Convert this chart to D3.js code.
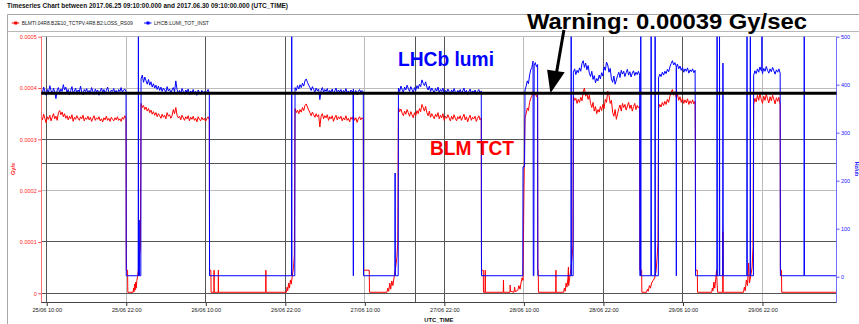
<!DOCTYPE html>
<html>
<head>
<meta charset="utf-8">
<script src="https://cdn.jsdelivr.net/npm/d3@7"></script>
<style>
  html, body { margin: 0; padding: 0; background: #fff; }
  svg { display: block; font-family: "Liberation Sans", Arial, sans-serif; }
</style>
</head>
<body>
<svg id="chart" width="859" height="324"></svg>
<script>
// times are "DD HH:MM" in June 2017 (UTC)
const parseT = s => d3.utcParse("%Y-%m-%d %H:%M")("2017-06-" + s);

const timeRange = ["25 09:10", "30 09:10"];
const xTicks = ["25 10:00", "25 22:00", "26 10:00", "26 22:00", "27 10:00",
                "27 22:00", "28 10:00", "28 22:00", "29 10:00", "29 22:00"];
const blmTicks = [0, 1, 2, 3, 4, 5];          // x 1e-4 Gy/s
const lumiTicks = [0, 100, 200, 300, 400, 500]; // Hz/ub

// stable-beam fills
const fillStart = ["25 09:10", "26 00:14", "26 23:28", "27 15:04", "28 10:10", "28 17:28", "29 06:19", "29 20:40"];
const fillEnd   = ["25 21:58", "26 10:32", "27 09:46", "28 03:34", "28 12:04", "29 03:28", "29 11:50", "30 00:40"];

const lumiFills = [
  [392, 381, 395, 386, 378, 390, 384, 398, 388, 380, 393, 385, 371, 389, 394, 383, 391, 386, 400, 389, 395, 384, 390, 379, 388, 396, 382, 387, 393, 381, 389, 385, 397, 384, 379, 390, 386, 392, 381, 388, 383, 394, 386, 380, 391, 385, 389, 378, 387, 393, 384, 390, 382, 388, 395, 385, 380, 389, 386, 392, 383, 388, 381, 390, 386, 394, 384, 389, 391, 386],
  [412, 420, 405, 416, 408, 401, 411, 399, 406, 395, 402, 393, 399, 390, 397, 388, 395, 386, 393, 389, 384, 396, 387, 391, 383, 389, 394, 385, 408, 390, 383, 388, 381, 392, 386, 380, 389, 384, 391, 379, 387, 383, 390, 381, 386, 378, 389, 384, 380, 388, 382, 386, 379, 385, 390, 383],
  [394, 388, 398, 391, 400, 394, 403, 397, 408, 412, 405, 399, 394, 388, 396, 390, 385, 393, 387, 391, 369, 388, 394, 384, 390, 386, 392, 382, 388, 385, 391, 380, 387, 393, 383, 389, 385, 390, 381, 388, 384, 392, 382, 387, 380, 389, 385, 391, 383, 388, 379, 386, 390, 384, 388, 385],
  [393, 386, 397, 390, 384, 395, 389, 399, 392, 386, 396, 390, 383, 394, 388, 398, 392, 401, 396, 410, 403, 398, 406, 395, 389, 397, 386, 393, 388, 383, 392, 387, 395, 384, 390, 386, 393, 381, 388, 384, 391, 386, 380, 389, 383, 392, 385, 380, 388, 384, 390, 381, 387, 393, 383, 388, 379, 386, 391, 382, 387, 384, 389, 380, 386, 390, 383, 387],
  [389, 397, 408, 402, 420, 431, 436, 449, 440, 446, 437, 442],
  [426, 433, 421, 430, 425, 435, 428, 444, 450, 436, 445, 431, 440, 424, 417, 428, 411, 419, 404, 413, 408, 420, 412, 425, 418, 437, 430, 447, 441, 426, 434, 412, 405, 418, 401, 410, 419, 426, 415, 430, 422, 428, 417, 425, 432, 420, 427, 416, 424, 429, 419, 426, 421, 428, 420],
  [414, 422, 417, 426, 420, 428, 423, 432, 427, 437, 444, 450, 441, 446, 438, 443, 433, 439, 430, 436, 426, 433, 428, 435, 424, 431, 427, 433, 425, 430],
  [419, 429, 423, 433, 426, 437, 429, 423, 434, 428, 438, 430, 424, 433, 427, 436, 429, 422, 431, 426, 433, 424]
];

// BLMTI...LOSS_RS09 during each fill (1e-4 Gy/s)
const blmFills = [
  [3.46, 3.38, 3.49, 3.41, 3.32, 3.44, 3.39, 3.47, 3.36, 3.43, 3.50, 3.40, 3.45, 3.37, 3.52, 3.56, 3.48, 3.53, 3.44, 3.50, 3.41, 3.46, 3.38, 3.45, 3.40, 3.48, 3.35, 3.43, 3.39, 3.46, 3.41, 3.37, 3.44, 3.40, 3.47, 3.36, 3.42, 3.39, 3.45, 3.38, 3.43, 3.35, 3.41, 3.46, 3.37, 3.42, 3.39, 3.44, 3.36, 3.40, 3.34, 3.42, 3.38, 3.45, 3.37, 3.41, 3.35, 3.43, 3.39, 3.36, 3.42, 3.38, 3.44, 3.37, 3.40, 3.35, 3.43, 3.39, 3.46, 3.41],
  [3.70, 3.62, 3.66, 3.58, 3.63, 3.55, 3.60, 3.52, 3.57, 3.49, 3.54, 3.47, 3.52, 3.44, 3.50, 3.46, 3.41, 3.49, 3.43, 3.47, 3.40, 3.52, 3.45, 3.48, 3.41, 3.46, 3.58, 3.50, 3.62, 3.47, 3.42, 3.45, 3.38, 3.47, 3.42, 3.37, 3.44, 3.40, 3.46, 3.36, 3.43, 3.39, 3.45, 3.37, 3.41, 3.34, 3.44, 3.39, 3.36, 3.43, 3.38, 3.41, 3.35, 3.40, 3.44, 3.38],
  [3.60, 3.52, 3.57, 3.50, 3.58, 3.53, 3.62, 3.56, 3.66, 3.69, 3.63, 3.57, 3.52, 3.46, 3.53, 3.48, 3.43, 3.50, 3.44, 3.48, 3.24, 3.45, 3.50, 3.40, 3.46, 3.42, 3.48, 3.37, 3.44, 3.40, 3.46, 3.35, 3.42, 3.47, 3.38, 3.44, 3.40, 3.45, 3.36, 3.42, 3.38, 3.46, 3.37, 3.41, 3.34, 3.43, 3.39, 3.45, 3.37, 3.42, 3.33, 3.40, 3.44, 3.38, 3.42, 3.39],
  [3.62, 3.54, 3.59, 3.51, 3.46, 3.55, 3.49, 3.58, 3.52, 3.45, 3.54, 3.48, 3.42, 3.52, 3.46, 3.56, 3.50, 3.60, 3.54, 3.68, 3.62, 3.55, 3.64, 3.52, 3.46, 3.55, 3.43, 3.50, 3.45, 3.40, 3.49, 3.44, 3.52, 3.40, 3.47, 3.42, 3.50, 3.37, 3.45, 3.41, 3.48, 3.42, 3.36, 3.45, 3.39, 3.48, 3.41, 3.36, 3.44, 3.40, 3.46, 3.37, 3.43, 3.49, 3.38, 3.44, 3.34, 3.42, 3.47, 3.37, 3.43, 3.40, 3.45, 3.35, 3.41, 3.46, 3.38, 3.42],
  [3.42, 3.50, 3.61, 3.56, 3.72, 3.80, 3.84, 3.93, 3.86, 3.91, 3.83, 3.88],
  [3.84, 3.76, 3.80, 3.70, 3.78, 3.72, 3.82, 3.75, 3.92, 4.00, 3.84, 3.90, 3.78, 3.86, 3.70, 3.62, 3.72, 3.55, 3.64, 3.50, 3.58, 3.53, 3.64, 3.56, 3.68, 3.60, 3.78, 3.72, 3.94, 3.86, 3.70, 3.76, 3.52, 3.45, 3.58, 3.39, 3.50, 3.60, 3.67, 3.55, 3.70, 3.62, 3.68, 3.57, 3.65, 3.72, 3.60, 3.67, 3.55, 3.64, 3.70, 3.58, 3.66, 3.61, 3.65],
  [3.60, 3.68, 3.63, 3.72, 3.66, 3.74, 3.68, 3.78, 3.72, 3.84, 3.92, 3.97, 3.86, 3.93, 3.82, 3.88, 3.76, 3.83, 3.72, 3.80, 3.70, 3.77, 3.71, 3.79, 3.68, 3.75, 3.70, 3.77, 3.69, 3.74],
  [3.68, 3.80, 3.73, 3.86, 3.76, 3.89, 3.78, 3.70, 3.84, 3.76, 3.88, 3.79, 3.71, 3.83, 3.75, 3.86, 3.78, 3.69, 3.81, 3.74, 3.82, 3.67]
];

// lumi outside fills: spikes and dips
const lumiGaps = [
  ["25 22:00", 2], ["25 23:48", 2], ["25 23:50", 500], ["25 23:52", 2], ["25 23:56", 2], ["25 23:57", 118], ["25 23:59", 2], ["26 00:12", 2],
  ["26 10:34", 2], ["26 22:56", 2], ["26 22:58", 500], ["26 23:00", 2], ["26 23:26", 2],
  ["27 08:14", 386], ["27 08:16", 2], ["27 08:18", 384],
  ["27 09:48", 2], ["27 14:32", 2], ["27 14:34", 216], ["27 14:36", 2], ["27 15:02", 2],
  ["28 03:36", 2], ["28 09:50", 2], ["28 09:52", 229], ["28 10:06", 229],
  ["28 11:25", 2], ["28 11:30", 2],
  ["28 12:06", 2], ["28 17:06", 2], ["28 17:08", 500], ["28 17:10", 2], ["28 17:26", 2],
  ["29 03:30", 2], ["29 03:36", 2], ["29 03:38", 500], ["29 03:40", 2], ["29 05:10", 2], ["29 05:12", 500], ["29 05:14", 2],
  ["29 05:46", 2], ["29 05:48", 500], ["29 05:50", 2], ["29 06:17", 2],
  ["29 08:59", 436], ["29 09:00", 2], ["29 09:01", 436],
  ["29 11:54", 2], ["29 15:07", 2], ["29 15:09", 500], ["29 15:11", 2], ["29 15:29", 2], ["29 15:31", 500], ["29 15:33", 2],
  ["29 16:00", 2], ["29 16:02", 445], ["29 16:04", 2], ["29 19:38", 2], ["29 19:40", 500], ["29 19:42", 2],
  ["29 20:08", 2], ["29 20:10", 500], ["29 20:12", 2], ["29 20:38", 2],
  ["29 21:54", 430], ["29 21:55", 500], ["29 21:56", 430],
  ["30 00:42", 2], ["30 04:16", 2], ["30 04:18", 500], ["30 04:20", 2], ["30 09:10", 2]
];

// BLM outside fills (1e-4 Gy/s)
const blmGaps = [
  ["25 22:00", 0.45], ["25 22:12", 0.45], ["25 22:14", 0.02], ["25 23:02", 0.02], ["25 23:06", 0.1], ["25 23:10", 0.03],
  ["25 23:16", 0.18], ["25 23:20", 0.06], ["25 23:26", 0.22], ["25 23:30", 0.1], ["25 23:36", 0.25], ["25 23:42", 0.32],
  ["25 23:50", 0.45], ["26 00:00", 0.72], ["26 00:08", 0.9],
  ["26 10:34", 0.45], ["26 10:46", 0.45], ["26 10:48", 0.02], ["26 11:14", 0.02], ["26 11:15", 0.45], ["26 11:16", 0.02],
  ["26 11:53", 0.02], ["26 11:54", 0.45], ["26 11:55", 0.02], ["26 19:03", 0.02], ["26 19:04", 0.45], ["26 19:05", 0.02],
  ["26 22:10", 0.02], ["26 22:16", 0.12], ["26 22:22", 0.05], ["26 22:30", 0.2], ["26 22:38", 0.1], ["26 22:46", 0.26],
  ["26 22:54", 0.18], ["26 23:04", 0.35], ["26 23:14", 0.5], ["26 23:22", 0.75],
  ["27 09:48", 0.45], ["27 10:40", 0.45], ["27 10:42", 0.02], ["27 13:20", 0.02], ["27 13:28", 0.1], ["27 13:36", 0.04],
  ["27 13:46", 0.2], ["27 13:54", 0.08], ["27 14:04", 0.24], ["27 14:14", 0.15], ["27 14:24", 0.3], ["27 14:36", 0.45],
  ["27 14:50", 0.7], ["27 14:58", 1.0],
  ["28 03:36", 0.45], ["28 03:52", 0.45], ["28 03:54", 0.02], ["28 04:09", 0.02], ["28 04:10", 0.45], ["28 04:11", 0.02],
  ["28 06:53", 0.02], ["28 06:55", 0.26], ["28 06:57", 0.02], ["28 07:54", 0.02], ["28 07:56", 0.16], ["28 07:58", 0.04],
  ["28 08:30", 0.02], ["28 08:36", 0.12], ["28 08:42", 0.03], ["28 09:05", 0.06], ["28 09:15", 0.15], ["28 09:25", 0.08],
  ["28 09:35", 0.22], ["28 09:44", 0.3], ["28 09:52", 0.25], ["28 10:00", 1.9], ["28 10:06", 2.9],
  ["28 12:06", 0.45], ["28 12:10", 0.45], ["28 12:12", 0.02], ["28 14:49", 0.02], ["28 14:50", 0.45], ["28 14:51", 0.02],
  ["28 16:00", 0.02], ["28 16:06", 0.1], ["28 16:14", 0.04], ["28 16:22", 0.2], ["28 16:30", 0.12], ["28 16:38", 0.28],
  ["28 16:43", 0.51], ["28 16:45", 0.15], ["28 16:54", 0.3], ["28 17:04", 0.45], ["28 17:16", 0.7], ["28 17:24", 0.95],
  ["29 03:30", 0.45], ["29 03:46", 0.45], ["29 03:48", 0.02], ["29 04:30", 0.02], ["29 04:38", 0.08], ["29 04:46", 0.04],
  ["29 04:56", 0.15], ["29 05:06", 0.1], ["29 05:16", 0.2], ["29 05:30", 0.25], ["29 05:44", 0.3], ["29 05:56", 0.42],
  ["29 06:06", 0.7], ["29 06:14", 1.0],
  ["29 11:53", 2.89], ["29 11:55", 0.45], ["29 12:10", 0.45], ["29 12:12", 0.02], ["29 14:20", 0.02], ["29 14:26", 0.1],
  ["29 14:32", 0.05], ["29 14:40", 0.22], ["29 14:48", 0.1], ["29 14:56", 0.26], ["29 15:04", 0.45], ["29 15:10", 0.15],
  ["29 15:14", 0.02], ["29 16:00", 0.02], ["29 16:02", 1.2], ["29 16:04", 0.02], ["29 19:08", 0.02], ["29 19:16", 0.12],
  ["29 19:24", 0.05], ["29 19:34", 0.26], ["29 19:44", 0.15], ["29 19:54", 0.59], ["29 20:02", 0.2], ["29 20:14", 0.35],
  ["29 20:26", 0.5], ["29 20:34", 0.9],
  ["30 00:42", 0.45], ["30 00:52", 0.45], ["30 00:54", 0.02], ["30 09:10", 0.02]
];

const warningLevel = 3.9;            // 0.00039 Gy/s
const arrowTip = ["28 14:00", 3.9];

// grid lines (some darker than others in the original)
const gridLightY = [5, 4, 2];
const gridDarkY = [3, 2.534, 1, 0];
const gridLightX = ["25 22:00", "27 10:00", "28 10:00", "29 22:00"];
const gridDarkX = ["25 10:00", "26 10:00", "26 22:00", "27 17:40", "27 22:00", "28 22:00", "29 10:00"];

const svg = d3.select("#chart");
const plotL = 41.2, plotR = 836.5, plotT = 36.7, plotB = 302.7;

const x = d3.scaleUtc().domain(timeRange.map(parseT)).range([plotL, plotR]);
const yL = d3.scaleLinear().domain([0, 5]).range([293.3, plotT]);
const yR = d3.scaleLinear().domain([0, 500]).range([276.7, plotT]);

const crisp = v => Math.floor(v) + 0.5;

// build series from fills + extra points
function buildSeries(rows, gaps) {
  const pts = [];
  rows.forEach((row, i) => {
    const t0 = +parseT(fillStart[i]), t1 = +parseT(fillEnd[i]);
    row.forEach((v, j) => pts.push([new Date(t0 + (t1 - t0) * j / (row.length - 1)), v]));
  });
  gaps.forEach(([t, v]) => pts.push([parseT(t), v]));
  return pts.sort((a, b) => a[0] - b[0]);
}
const lumiData = buildSeries(lumiFills, lumiGaps);
const blmData = buildSeries(blmFills, blmGaps);

// frame / title / legend
svg.append("rect").attr("width", 859).attr("height", 324).attr("fill", "#fff");
svg.append("text").attr("x", 7).attr("y", 7.5)
  .attr("font-size", 7.6).attr("font-weight", "bold").attr("fill", "#111")
  .attr("textLength", 281).attr("lengthAdjust", "spacingAndGlyphs")
  .text("Timeseries Chart between 2017.06.25 09:10:00.000 and 2017.06.30 09:10:00.000 (UTC_TIME)");

svg.append("path").attr("d", "M7.5,324V14.5H859").attr("fill", "none").attr("stroke", "#a8a8a8");
svg.append("line").attr("x1", 7.5).attr("x2", 859).attr("y1", 31.5).attr("y2", 31.5).attr("stroke", "#b8b8b8");

const legend = [
  { name: "BLMTI.04R8.B2E10_TCTPV.4R8.B2:LOSS_RS09", color: "#ff0000", x: 11.7, w: 111 },
  { name: "LHCB:LUMI_TOT_INST", color: "#0000ff", x: 144, w: 55 }
];
legend.forEach(d => {
  const g = svg.append("g");
  g.append("line").attr("x1", d.x).attr("x2", d.x + 7.5).attr("y1", 23).attr("y2", 23).attr("stroke", d.color).attr("stroke-width", 1);
  g.append("rect").attr("x", d.x + 2.5).attr("y", 21.5).attr("width", 3).attr("height", 3).attr("fill", d.color);
  g.append("text").attr("x", d.x + 10).attr("y", 25).attr("font-size", 5.5).attr("fill", "#222")
    .attr("textLength", d.w).attr("lengthAdjust", "spacingAndGlyphs").text(d.name);
});

// grid
const grid = svg.append("g");
gridLightY.forEach(v => grid.append("line").attr("x1", plotL).attr("x2", plotR)
  .attr("y1", crisp(yL(v))).attr("y2", crisp(yL(v))).attr("stroke", "#bcbcbc"));
gridLightX.forEach(t => grid.append("line").attr("y1", plotT).attr("y2", plotB)
  .attr("x1", crisp(x(parseT(t)))).attr("x2", crisp(x(parseT(t)))).attr("stroke", "#bcbcbc"));
gridDarkY.forEach(v => grid.append("line").attr("x1", plotL).attr("x2", plotR)
  .attr("y1", crisp(yL(v))).attr("y2", crisp(yL(v))).attr("stroke", "#555"));
gridDarkX.forEach(t => grid.append("line").attr("y1", plotT).attr("y2", plotB)
  .attr("x1", crisp(x(parseT(t)))).attr("x2", crisp(x(parseT(t)))).attr("stroke", "#555"));

// data
svg.append("clipPath").attr("id", "plot").append("rect")
  .attr("x", plotL).attr("y", plotT - 1).attr("width", plotR - plotL).attr("height", plotB - plotT + 1);
const plot = svg.append("g").attr("clip-path", "url(#plot)");

plot.append("path").datum(blmData)
  .attr("fill", "none").attr("stroke", "#ff0000").attr("stroke-width", 1)
  .attr("d", d3.line().x(d => x(d[0])).y(d => yL(d[1])));
plot.append("path").datum(lumiData)
  .attr("fill", "none").attr("stroke", "#0000ff").attr("stroke-width", 1)
  .attr("d", d3.line().x(d => x(d[0])).y(d => yR(d[1])));

// axes
const axisFont = (g, color, size) => g.selectAll("text").attr("fill", color).attr("font-size", size)
  .attr("font-family", "'Liberation Sans', Arial, sans-serif");

const gL = svg.append("g").attr("transform", `translate(${plotL},0)`)
  .call(d3.axisLeft(yL).tickValues(blmTicks).tickSize(3).tickPadding(1.5)
    .tickFormat(d => d === 0 ? "0" : (d * 1e-4).toFixed(4)));
gL.select(".domain").remove();
gL.selectAll("line").attr("stroke", "#ff5050");
axisFont(gL, "#ff2020", 5.5);
svg.append("line").attr("x1", crisp(plotL)).attr("x2", crisp(plotL)).attr("y1", plotT).attr("y2", plotB)
  .attr("stroke", "#ff7070");

const gR = svg.append("g").attr("transform", `translate(${plotR},0)`)
  .call(d3.axisRight(yR).tickValues(lumiTicks).tickSize(3).tickPadding(1.5));
gR.select(".domain").remove();
gR.selectAll("line").attr("stroke", "#5050ff");
axisFont(gR, "#2020ff", 5.5);
svg.append("line").attr("x1", crisp(plotR)).attr("x2", crisp(plotR)).attr("y1", plotT).attr("y2", plotB)
  .attr("stroke", "#7070ff");

const gB = svg.append("g").attr("transform", `translate(0,${crisp(plotB)})`)
  .call(d3.axisBottom(x).tickValues(xTicks.map(parseT)).tickSize(3.5).tickPadding(2)
    .tickFormat(d3.utcFormat("%d/%m %H:%M")));
gB.select(".domain").remove();
gB.selectAll("line").attr("stroke", "#333");
axisFont(gB, "#222", 5.6);
svg.append("line").attr("x1", plotL).attr("x2", plotR).attr("y1", crisp(plotB)).attr("y2", crisp(plotB))
  .attr("stroke", "#444");

svg.append("text").attr("x", (plotL + plotR) / 2).attr("y", 322).attr("text-anchor", "middle")
  .attr("font-size", 5.8).attr("font-weight", "bold").attr("fill", "#111").text("UTC_TIME");
svg.append("text").attr("transform", "translate(15,169) rotate(-90)").attr("text-anchor", "middle")
  .attr("font-size", 5.6).attr("font-weight", "bold").attr("fill", "#ff2020").text("Gy/s");
svg.append("text").attr("transform", "translate(855,169) rotate(90)").attr("text-anchor", "middle")
  .attr("font-size", 5.4).attr("font-weight", "bold").attr("fill", "#2020ff").text("Hz/ub");

// annotations
svg.append("line").attr("x1", plotL).attr("x2", plotR)
  .attr("y1", yL(warningLevel)).attr("y2", yL(warningLevel))
  .attr("stroke", "#000").attr("stroke-width", 3);

const tipX = x(parseT(arrowTip[0])), tipY = yL(arrowTip[1]);
svg.append("line").attr("x1", tipX + 13.5).attr("y1", 30).attr("x2", tipX + 6).attr("y2", tipY - 20)
  .attr("stroke", "#000").attr("stroke-width", 3);
svg.append("path")
  .attr("d", `M${tipX},${tipY} L${tipX - 3.3},${tipY - 23.5} L${tipX + 14.3},${tipY - 21} Z`)
  .attr("fill", "#000");

svg.append("text").attr("x", 527).attr("y", 29).attr("font-size", 22).attr("font-weight", "bold")
  .attr("fill", "#000").attr("textLength", 280).attr("lengthAdjust", "spacingAndGlyphs")
  .text("Warning: 0.00039 Gy/sec");
svg.append("text").attr("x", 398).attr("y", 66).attr("font-size", 19.5).attr("font-weight", "bold")
  .attr("fill", "#0000ff").attr("textLength", 96).attr("lengthAdjust", "spacingAndGlyphs")
  .text("LHCb lumi");
svg.append("text").attr("x", 430).attr("y", 155).attr("font-size", 19.5).attr("font-weight", "bold")
  .attr("fill", "#ff0000").attr("textLength", 84).attr("lengthAdjust", "spacingAndGlyphs")
  .text("BLM TCT");
</script>
</body>
</html>
